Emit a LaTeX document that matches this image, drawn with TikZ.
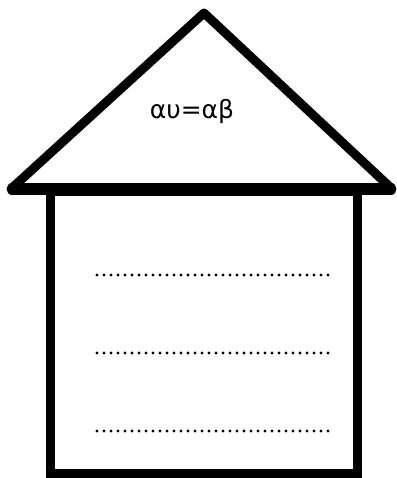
\documentclass[tikz,border=0pt]{standalone}
\usepackage{fontspec}
\setmainfont{DejaVu Sans}
\tikzset{
  thick line/.style={line width=9pt, line join=round, line cap=round},
  fillin/.style={line width=3.2pt, line cap=round, dash pattern=on 0pt off 7pt},
}
\begin{document}
\begin{tikzpicture}[x=1pt,y=-1pt]
\useasboundingbox (0,0) rectangle (396,478);
% body
\draw[line width=9pt, line join=miter] (50.5,191) rectangle (357.5,473.5);
% roof
\draw[thick line] (12,188) -- (204,13) -- (391,188);
\draw[line width=11pt, line cap=round] (12,189) -- (391,189);
% title
\node (title) at (192,112) {\fontsize{25}{30}\selectfont αυ=αβ};
% fill-in lines
\draw[fillin] (97,275) -- (329,275);
\draw[fillin] (97,353) -- (329,353);
\draw[fillin] (97,431) -- (329,431);
\end{tikzpicture}
\end{document}
